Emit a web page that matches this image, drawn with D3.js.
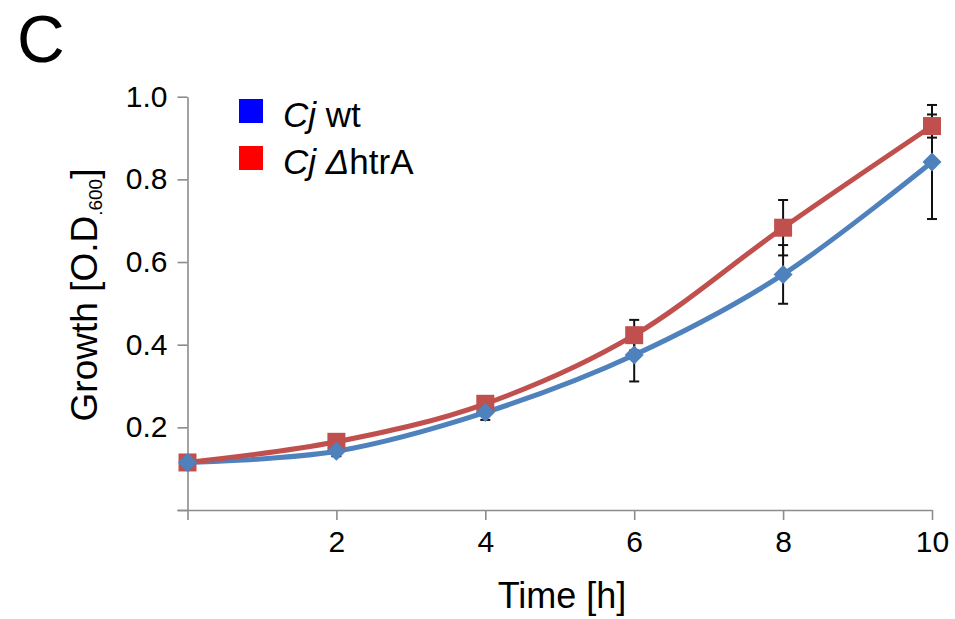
<!DOCTYPE html>
<html>
<head>
<meta charset="utf-8">
<script src="https://cdn.jsdelivr.net/npm/d3@7.9.0/dist/d3.min.js"></script>
<style>
  body { margin: 0; background: #fff; }
  svg { font-family: "Liberation Sans", Arial, sans-serif; }
</style>
</head>
<body>
<svg id="chart" width="955" height="619"></svg>
<script>
const hours = [0, 2, 4, 6, 8, 10];
const wtGrowth = [0.115, 0.142, 0.236, 0.375, 0.570, 0.842];
const wtError = [0, 0.012, 0.018, 0.064, 0.071, 0.138];
const htrAGrowth = [0.115, 0.165, 0.257, 0.423, 0.683, 0.929];
const htrAError = [0, 0, 0, 0.037, 0.067, 0.028];
const xTicks = [0, 2, 4, 6, 8, 10];
const yTicks = [0, 0.2, 0.4, 0.6, 0.8, 1.0];

const svg = d3.select('#chart');

const x = d3.scaleLinear().domain([0, 10]).range([187.5, 932]);
const y = d3.scaleLinear().domain([0, 1]).range([510, 96.7]);

const axisColor = '#8c8c8c';

// panel letter
svg.append('text')
  .attr('x', 17).attr('y', 62)
  .attr('font-size', 66)
  .text('C');

// y axis
const yAxis = svg.append('g')
  .attr('transform', `translate(${x(0)},0)`)
  .call(d3.axisLeft(y).tickValues(yTicks).tickSize(10).tickSizeOuter(0)
    .tickFormat(d => d === 0 ? '' : d3.format('.1f')(d)).tickPadding(10));

// x axis
const xAxis = svg.append('g')
  .attr('transform', `translate(0,${y(0)})`)
  .call(d3.axisBottom(x).tickValues(xTicks).tickSize(10).tickSizeOuter(0)
    .tickFormat(d => d === 0 ? '' : d).tickPadding(11));

[yAxis, xAxis].forEach(g => {
  g.select('.domain').attr('stroke', axisColor).attr('stroke-width', 1.6);
  g.selectAll('.tick line').attr('stroke', axisColor).attr('stroke-width', 1.6);
  g.selectAll('.tick text').attr('fill', '#000').attr('font-size', 30)
    .attr('font-family', '"Liberation Sans", Arial, sans-serif');
});

// extend x axis line to the left under the y tick at 0
xAxis.select('.domain').attr('d', `M${x(0) - 10},0.5H${x(10)}`);

// axis titles
svg.append('text')
  .attr('x', 562).attr('y', 608)
  .attr('text-anchor', 'middle')
  .attr('font-size', 36)
  .text('Time [h]');

const yTitle = svg.append('text')
  .attr('transform', 'translate(97,295) rotate(-90)')
  .attr('text-anchor', 'middle')
  .attr('font-size', 37);
yTitle.append('tspan').text('Growth [O.D');
yTitle.append('tspan').attr('font-size', 19).attr('dy', 5).text('.600');
yTitle.append('tspan').attr('dy', -5).text(']');

const series = [
  { name: 'wt', values: wtGrowth, errors: wtError, color: '#4f81bd', marker: 'diamond' },
  { name: 'htrA', values: htrAGrowth, errors: htrAError, color: '#c0504d', marker: 'square' }
];

const line = d3.line()
  .x(d => x(d.t))
  .y(d => y(d.v))
  .curve(d3.curveCatmullRom.alpha(0));

series.forEach(s => {
  const pts = hours.map((t, i) => ({ t, v: s.values[i], e: s.errors[i] }));
  const g = svg.append('g');

  g.append('path')
    .datum(pts)
    .attr('fill', 'none')
    .attr('stroke', s.color)
    .attr('stroke-width', 5)
    .attr('d', line);

  // error bars
  const eb = g.selectAll('.err')
    .data(pts.filter(d => d.e > 0))
    .enter().append('g')
    .attr('stroke', '#111')
    .attr('stroke-width', 2);
  eb.append('line')
    .attr('x1', d => x(d.t)).attr('x2', d => x(d.t))
    .attr('y1', d => y(d.v - d.e)).attr('y2', d => y(d.v + d.e));
  eb.append('line')
    .attr('x1', d => x(d.t) - 5).attr('x2', d => x(d.t) + 5)
    .attr('y1', d => y(d.v - d.e)).attr('y2', d => y(d.v - d.e));
  eb.append('line')
    .attr('x1', d => x(d.t) - 5).attr('x2', d => x(d.t) + 5)
    .attr('y1', d => y(d.v + d.e)).attr('y2', d => y(d.v + d.e));
});

// markers drawn on top
series.slice().reverse().forEach(s => {
  const pts = hours.map((t, i) => ({ t, v: s.values[i] }));
  const sym = s.marker === 'square'
    ? d3.symbol().type(d3.symbolSquare).size(18 * 18)
    : d3.symbol().type(d3.symbolDiamond2).size(230);
  svg.append('g').selectAll('path')
    .data(pts)
    .enter().append('path')
    .attr('transform', d => `translate(${x(d.t)},${y(d.v)})`)
    .attr('d', sym)
    .attr('fill', s.color);
});

// legend
const legend = [
  { label: 'wt', color: '#0000ff', delta: false },
  { label: 'htrA', color: '#ff0000', delta: true }
];
legend.forEach((d, i) => {
  const yy = 99 + i * 47;
  svg.append('rect')
    .attr('x', 239).attr('y', yy)
    .attr('width', 24).attr('height', 24)
    .attr('fill', d.color);
  const t = svg.append('text')
    .attr('x', 283).attr('y', yy + 28)
    .attr('font-size', 35);
  t.append('tspan').attr('font-style', 'italic').text('Cj');
  t.append('tspan').text(' ');
  if (d.delta) t.append('tspan').attr('font-style', 'italic').text('\u0394');
  t.append('tspan').text(d.label);
});
</script>
</body>
</html>
